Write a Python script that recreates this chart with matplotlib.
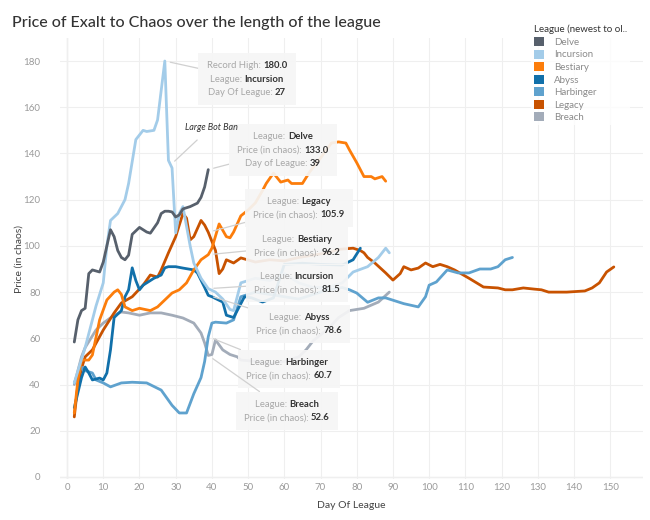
import matplotlib
matplotlib.use("Agg")
import matplotlib.pyplot as plt
import numpy as np
from matplotlib.offsetbox import TextArea, HPacker, VPacker, AnnotationBbox
from matplotlib.patches import Patch

plt.rcParams['font.family'] = ['Lato', 'DejaVu Sans']

# ---------------- data ----------------
leagues = ["Delve", "Incursion", "Bestiary", "Abyss", "Harbinger", "Legacy", "Breach"]
colors = ["#57606c", "#a3cce9", "#fc7d0b", "#1170aa", "#5fa2ce", "#c85200", "#a3acb9"]

delve_days = [2, 3, 4, 5, 6, 7, 9, 10, 11, 12, 13, 14, 15, 16, 17, 18, 20, 22, 23, 25, 26, 27, 28, 29, 30, 31, 32, 34, 36, 37, 38, 39]
delve_vals = [58.4, 68, 72, 73, 88, 89.6, 88.7, 93, 100, 107, 104, 98, 95, 94, 96, 105, 108, 106, 105.5, 110, 114, 115, 115, 114.7, 112.5, 113.4, 116, 117, 118.5, 121, 125.5, 133.0]

incursion_days = [2, 4, 5, 6, 8, 10, 11, 12, 14, 16, 17, 19, 21, 22, 24, 25, 27, 28, 29, 30, 31, 32, 34, 35, 37, 39, 41, 43, 45, 46, 47, 48, 52, 56, 60, 64, 68, 72, 76, 79, 83, 86, 88, 89]
incursion_vals = [40.7, 51, 56, 62, 74, 84, 100, 111, 114, 120, 127, 146, 150, 149.5, 150, 154.5, 180.0, 137, 133.7, 105.6, 114, 117, 100, 92.6, 86, 81.5, 80, 77, 72.5, 72, 78, 84, 86, 85, 88, 84, 82, 82, 84, 88.7, 91, 95, 99, 97]

bestiary_days = [2, 3, 4, 6, 7, 9, 11, 13, 14, 15, 16, 18, 20, 23, 25, 27, 29, 31, 33, 35, 37, 39, 40, 42, 44, 45, 46, 48, 50, 52, 54, 55, 57, 59, 61, 62, 65, 67, 70, 73, 75, 77, 78, 80, 82, 84, 85, 87, 88]
bestiary_vals = [27.7, 42, 50.6, 50.6, 52.8, 68, 76.6, 80, 81, 79, 73.6, 72, 73, 72, 73.6, 76.6, 79.6, 81, 84, 89.6, 94, 96.2, 99, 109.5, 104, 103.5, 106, 113, 115.5, 118.6, 124, 127, 131.5, 127.6, 128.5, 127, 127, 132, 138, 144.5, 145, 144.5, 141.5, 136, 130, 130, 129, 130, 128]

abyss_days = [2, 4, 5, 6, 7, 9, 10, 11, 12, 13, 15, 16, 17, 18, 19, 20, 21, 22, 24, 26, 27, 28, 30, 32, 35, 36, 38, 39, 40, 43, 44, 46, 48, 49, 51, 54, 57, 60, 65, 70, 76, 79, 81]
abyss_vals = [30, 43, 47.6, 45, 42, 42.8, 42, 45, 55, 69, 72, 78, 81, 90.5, 85, 81, 83, 84, 86, 87.4, 90.5, 91, 91, 90.4, 89.6, 88.3, 82, 78.6, 78, 75.7, 70, 69, 75, 78, 77.5, 75.7, 77.5, 92, 92.5, 92, 91.7, 94, 99]

harbinger_days = [2, 4, 5, 7, 8, 10, 12, 15, 18, 22, 26, 29, 31, 33, 35, 37, 38, 39, 40, 41, 44, 46, 48, 52, 56, 60, 64, 68, 72, 76, 78, 80, 83, 86, 88, 93, 97, 99, 100, 102, 105, 108, 111, 114, 117, 119, 121, 123]
harbinger_vals = [40.7, 47.6, 46, 45, 42, 40.7, 39, 40.7, 41, 40.7, 37.6, 31, 27.7, 27.7, 36, 43, 50, 60.7, 66.6, 67, 66.6, 68, 78, 80, 79, 78, 77, 79, 81, 82, 81, 79.6, 75.6, 77.5, 77.5, 75, 73.6, 78, 83, 84.4, 89.6, 88.3, 88.3, 90, 90, 91, 94, 95]

legacy_days = [2, 3, 4, 5, 7, 10, 13, 15, 18, 21, 23, 25, 26, 28, 30, 32, 33, 34, 35, 37, 38, 39, 41, 42, 43, 44, 46, 48, 52, 56, 60, 64, 68, 72, 75, 79, 81, 82, 83, 85, 88, 90, 92, 93, 95, 97, 99, 101, 103, 105, 107, 111, 115, 119, 121, 123, 126, 129, 131, 133, 138, 143, 145, 147, 149, 151]
legacy_vals = [26, 40, 47, 52, 55, 63.6, 71, 75.3, 78, 83, 87.4, 86.5, 89.6, 97, 104, 114, 112, 102.6, 104, 111, 109, 105.9, 98, 88, 90, 94, 92.6, 94.8, 93, 94, 93.5, 95, 96, 97, 98.5, 99, 98, 97, 95, 92.6, 88.3, 85.2, 88, 91, 89.6, 90.4, 92.6, 91, 92, 91, 89.6, 86, 82.2, 81.8, 81, 81, 81.8, 81.3, 81, 80, 80, 80.5, 81.8, 84, 88.7, 90.9]

breach_days = [2, 4, 5, 8, 10, 13, 15, 17, 20, 23, 26, 29, 32, 35, 37, 38, 39, 40, 41, 43, 45, 47, 48, 52, 56, 60, 64, 66, 68, 72, 75, 78, 82, 86, 89]
breach_vals = [40, 52, 56, 63.6, 66.6, 70, 71.4, 71, 70, 71, 71, 70, 68.8, 66.6, 62.3, 58, 52.6, 53, 59.3, 55, 53, 52, 50.6, 50, 49, 50, 52, 55, 59, 64, 69, 72, 73, 75.7, 80]

series = {
    "Delve": (delve_days, delve_vals),
    "Incursion": (incursion_days, incursion_vals),
    "Bestiary": (bestiary_days, bestiary_vals),
    "Abyss": (abyss_days, abyss_vals),
    "Harbinger": (harbinger_days, harbinger_vals),
    "Legacy": (legacy_days, legacy_vals),
    "Breach": (breach_days, breach_vals),
}
color_of = dict(zip(leagues, colors))

x_ticks = list(range(0, 151, 10))
y_ticks = list(range(0, 181, 20))
annot_day = 39

# ---------------- figure ----------------
W, H = 650, 520
fig = plt.figure(figsize=(W / 100, H / 100), dpi=100)
fig.patch.set_facecolor("white")

def fx(px):
    return px / W

def fy(py):
    return 1 - py / H

ax = fig.add_axes([fx(59.8), fy(479.3), 583 / W, 441.4 / H])
ax.set_xlim(-2, 159)
ax.set_ylim(-1, 190)
for s in ax.spines.values():
    s.set_visible(False)
ax.set_xticks(x_ticks)
ax.set_yticks(y_ticks)
ax.grid(True, color="#efefef", lw=0.8, zorder=0)
ax.axvline(0, color="#dedede", lw=0.9, zorder=0.5)
ax.axhline(0, color="#e6e6e6", lw=0.9, zorder=0.5)
ax.tick_params(length=0, labelsize=7, labelcolor="#9a9a9a")
ax.tick_params(axis="x", pad=3)
ax.tick_params(axis="y", pad=14)
ax.set_xlabel("Day Of League", fontsize=7.5, color="#444444", labelpad=6)
ax.set_ylabel("Price (in chaos)", fontsize=7.5, color="#444444", labelpad=0)

draw_order = ["Breach", "Legacy", "Harbinger", "Abyss", "Bestiary", "Incursion", "Delve"]
for name in draw_order:
    d, v = series[name]
    ax.plot(d, v, color=color_of[name], lw=2.0, solid_joinstyle="round", solid_capstyle="round", zorder=2)

fig.text(fx(12), fy(23), "Price of Exalt to Chaos over the length of the league",
         fontsize=11.5, color="#333333", fontweight="medium", va="center", ha="left")

# ---------------- annotations ----------------
LBL = "#a8a8a8"
VAL = "#333333"
FS = 6.8

def row(label, value):
    return HPacker(children=[TextArea(label, textprops=dict(color=LBL, fontsize=FS)),
                             TextArea(value, textprops=dict(color=VAL, fontsize=FS, fontweight="bold"))],
                   align="baseline", pad=0, sep=0)

def value_at(name, day):
    d, v = series[name]
    return float(np.interp(day, d, v))

def box(rows, xy, center_px, leader=True):
    pack = VPacker(children=rows, align="center", pad=0, sep=3)
    ab = AnnotationBbox(pack, xy, xycoords="data",
                        xybox=(center_px[0], H - center_px[1]), boxcoords="figure pixels",
                        box_alignment=(0.5, 0.5), pad=0.6,
                        bboxprops=dict(facecolor="#f6f6f6", edgecolor="none", alpha=0.92),
                        arrowprops=dict(arrowstyle="-", color="#d0d0d0", lw=0.9,
                                        shrinkA=0, shrinkB=4) if leader else None,
                        zorder=5)
    ax.add_artist(ab)

# record high
inc_d, inc_v = series["Incursion"]
imax = int(np.argmax(inc_v))
box([row("Record High: ", f"{inc_v[imax]:.1f}"),
     row("League: ", "Incursion"),
     row("Day Of League: ", f"{inc_d[imax]}")],
    (inc_d[imax], inc_v[imax]), (247, 79))

# Delve end
box([row("League: ", "Delve"),
     row("Price (in chaos): ", f"{value_at('Delve', annot_day):.1f}"),
     row("Day of League: ", f"{annot_day}")],
    (annot_day, value_at("Delve", annot_day)), (283, 150))

centers = {"Legacy": (299, 208), "Bestiary": (297, 246), "Incursion": (297, 283),
           "Abyss": (299, 324), "Harbinger": (289, 369), "Breach": (287, 411)}
for name in ["Legacy", "Bestiary", "Incursion", "Abyss", "Harbinger", "Breach"]:
    val = value_at(name, annot_day)
    box([row("League: ", name), row("Price (in chaos): ", f"{val:.1f}")],
        (annot_day, val), centers[name])

# Large Bot Ban note
ax.annotate("Large Bot Ban", xy=(28.6, value_at("Incursion", 28.6)), xycoords="data",
            xytext=(211, H - 127), textcoords="figure pixels",
            fontsize=6.5, style="italic", color="#333333", ha="center", va="center",
            arrowprops=dict(arrowstyle="-", color="#d0d0d0", lw=0.9, shrinkA=6, shrinkB=4),
            zorder=5)

# ---------------- legend ----------------
handles = [Patch(facecolor=c, edgecolor="none") for c in colors]
leg = fig.legend(handles, leagues, loc="upper left", bbox_to_anchor=(fx(526), fy(17)),
                 frameon=True, fontsize=7, title="League (newest to ol..", title_fontsize=7,
                 handlelength=1.05, handleheight=1.05, handletextpad=1.0, labelspacing=0.28,
                 borderpad=0.3, alignment="left")
leg.get_frame().set_facecolor("white")
leg.get_frame().set_edgecolor("none")
leg.get_title().set_color("#333333")
for t in leg.get_texts():
    t.set_color("#8a8a8a")

fig.savefig("out.png", dpi=100)
